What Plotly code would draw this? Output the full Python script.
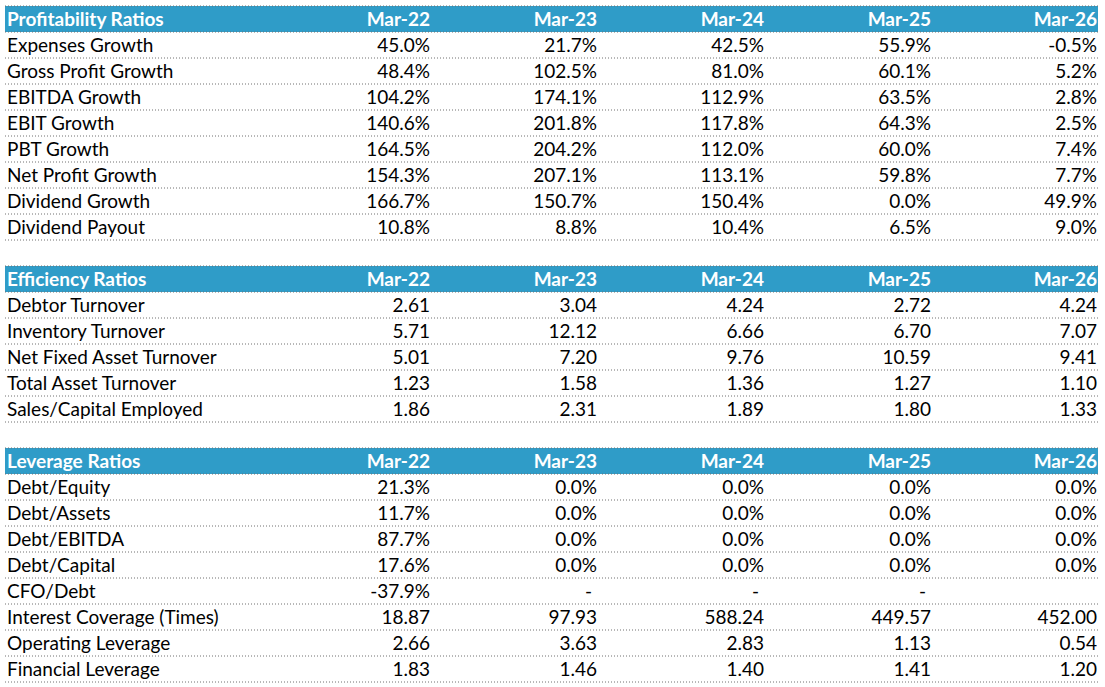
import plotly.graph_objects as go

# ---------------- data ----------------
periods = ["Mar-22", "Mar-23", "Mar-24", "Mar-25", "Mar-26"]

profit_title = "Profitability Ratios"
profit_labels = ["Expenses Growth", "Gross Profit Growth", "EBITDA Growth", "EBIT Growth",
                 "PBT Growth", "Net Profit Growth", "Dividend Growth", "Dividend Payout"]
profit_values = [
    ["45.0%", "21.7%", "42.5%", "55.9%", "-0.5%"],
    ["48.4%", "102.5%", "81.0%", "60.1%", "5.2%"],
    ["104.2%", "174.1%", "112.9%", "63.5%", "2.8%"],
    ["140.6%", "201.8%", "117.8%", "64.3%", "2.5%"],
    ["164.5%", "204.2%", "112.0%", "60.0%", "7.4%"],
    ["154.3%", "207.1%", "113.1%", "59.8%", "7.7%"],
    ["166.7%", "150.7%", "150.4%", "0.0%", "49.9%"],
    ["10.8%", "8.8%", "10.4%", "6.5%", "9.0%"],
]

eff_title = "Efficiency Ratios"
eff_labels = ["Debtor Turnover", "Inventory Turnover", "Net Fixed Asset Turnover",
              "Total Asset Turnover", "Sales/Capital Employed"]
eff_values = [
    ["2.61", "3.04", "4.24", "2.72", "4.24"],
    ["5.71", "12.12", "6.66", "6.70", "7.07"],
    ["5.01", "7.20", "9.76", "10.59", "9.41"],
    ["1.23", "1.58", "1.36", "1.27", "1.10"],
    ["1.86", "2.31", "1.89", "1.80", "1.33"],
]

lev_title = "Leverage Ratios"
lev_labels = ["Debt/Equity", "Debt/Assets", "Debt/EBITDA", "Debt/Capital", "CFO/Debt",
              "Interest Coverage (Times)", "Operating Leverage", "Financial Leverage"]
lev_values = [
    ["21.3%", "0.0%", "0.0%", "0.0%", "0.0%"],
    ["11.7%", "0.0%", "0.0%", "0.0%", "0.0%"],
    ["87.7%", "0.0%", "0.0%", "0.0%", "0.0%"],
    ["17.6%", "0.0%", "0.0%", "0.0%", "0.0%"],
    ["-37.9%", "-", "-", "-", ""],
    ["18.87", "97.93", "588.24", "449.57", "452.00"],
    ["2.66", "3.63", "2.83", "1.13", "0.54"],
    ["1.83", "1.46", "1.40", "1.41", "1.20"],
]

sections = [
    (profit_title, profit_labels, profit_values),
    (eff_title, eff_labels, eff_values),
    (lev_title, lev_labels, lev_values),
]

# ---------------- layout constants ----------------
W, H = 1105, 687
TOP_PX = 6
ROW_PX = 26
LEFT_X = 5
RIGHT_X = 1098
LABEL_X = 7
COL_RIGHT = [430, 597, 764, 931, 1097]
HEADER_BG = "#2F9CC8"
FONT = "Lato"
FS = 19
DOT_COLOR = "#707070"
TEXT_DY = 0.57  # vertical text position within a row (Excel-like bottom bias)

# build row list
rows = []  # (kind, label, values)
for i, (title, labels, values) in enumerate(sections):
    if i > 0:
        rows.append(("blank", "", [""] * 5))
    rows.append(("header", title, periods))
    for lab, vals in zip(labels, values):
        rows.append(("data", lab, vals))

n_rows = len(rows)
rows_visible = H / ROW_PX
top = -TOP_PX / ROW_PX
bottom = top + rows_visible

fig = go.Figure()
shapes = []

# header bands
for r, (kind, lab, vals) in enumerate(rows):
    if kind == "header":
        shapes.append(dict(type="rect", xref="x", yref="y", x0=LEFT_X, x1=RIGHT_X,
                           y0=r, y1=r + 1, fillcolor=HEADER_BG, line=dict(width=0),
                           layer="below"))
# dotted row borders
for r in range(n_rows + 1):
    shapes.append(dict(type="line", xref="x", yref="y", x0=LEFT_X, x1=RIGHT_X,
                       y0=r, y1=r, line=dict(color=DOT_COLOR, width=1, dash="1px,2px"),
                       layer="above"))

def add_text(xs, ys, texts, pos, color, bold):
    t = [f"<b>{s}</b>" if bold else s for s in texts]
    fig.add_trace(go.Scatter(x=xs, y=ys, text=t, mode="text", textposition=pos,
                             textfont=dict(family=FONT, size=FS, color=color),
                             hoverinfo="skip", showlegend=False, cliponaxis=False))

# label column
for kind in ("header", "data"):
    ys = [r + TEXT_DY for r, row in enumerate(rows) if row[0] == kind]
    labs = [row[1] for row in rows if row[0] == kind]
    add_text([LABEL_X] * len(ys), ys, labs, "middle right",
             "white" if kind == "header" else "black", kind == "header")

# value columns
for c in range(len(periods)):
    for kind in ("header", "data"):
        xs, ys, ts = [], [], []
        for r, row in enumerate(rows):
            if row[0] != kind:
                continue
            v = row[2][c]
            if v == "":
                continue
            xs.append(COL_RIGHT[c] - (5 if v == "-" else 0))
            ys.append(r + TEXT_DY)
            ts.append(v)
        add_text(xs, ys, ts, "middle left",
                 "white" if kind == "header" else "black", kind == "header")

fig.update_layout(
    width=W, height=H,
    margin=dict(l=0, r=0, t=0, b=0),
    paper_bgcolor="white", plot_bgcolor="white",
    shapes=shapes,
    xaxis=dict(range=[0, W], visible=False, fixedrange=True),
    yaxis=dict(range=[bottom, top], visible=False, fixedrange=True),
)

fig.write_html("out.html", config={"displayModeBar": False},
               post_script="document.body.style.margin='0px';document.body.style.overflow='hidden';")
